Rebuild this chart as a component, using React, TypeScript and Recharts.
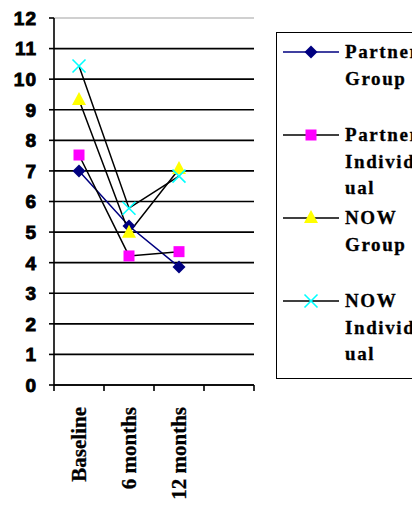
import React from "react";
import { CartesianGrid, Line, LineChart, ReferenceLine, XAxis, YAxis } from "recharts";

const categories = ["Baseline", "6 months", "12 months"];
const partnerGroup = [7.0, 5.2, 3.86];
const partnerIndividual = [7.52, 4.22, 4.36];
const nowGroup = [9.32, 4.98, 7.06];
const nowIndividual = [10.43, 5.78, 6.83];
const yTicks = [0, 1, 2, 3, 4, 5, 6, 7, 8, 9, 10, 11, 12];
const xSlots = [0, 1, 2, 3, 4];

const legendLines = [
  ["Partner", "Group"],
  ["Partner", "Individ", "ual"],
  ["NOW", "Group"],
  ["NOW", "Individ", "ual"],
];

const W = 412;
const H = 500;
const M = { top: 10, right: 166, left: 0, bottom: 0 };
const Y_W = 46;
const PLOT_W = W - M.left - M.right - Y_W;

const rows = categories.map((name, i) => ({
  x: i + 0.5,
  name,
  pg: partnerGroup[i],
  pi: partnerIndividual[i],
  ng: nowGroup[i],
  ni: nowIndividual[i],
}));

const serif = "'Liberation Serif', 'Times New Roman', serif";
const sans = "Arial, 'Liberation Sans', sans-serif";

function Diamond({ cx, cy }: any) {
  const r = 6.5;
  return <polygon points={`${cx},${cy - r} ${cx + r},${cy} ${cx},${cy + r} ${cx - r},${cy}`} fill="#000080" />;
}
function Square({ cx, cy }: any) {
  const s = 11;
  return <rect x={cx - s / 2} y={cy - s / 2} width={s} height={s} fill="#FF00FF" />;
}
function Triangle({ cx, cy }: any) {
  return <polygon points={`${cx},${cy - 8} ${cx + 7},${cy + 5} ${cx - 7},${cy + 5}`} fill="#FFFF00" />;
}
function Cross({ cx, cy }: any) {
  const r = 6.5;
  return (
    <g stroke="#00FFFF" strokeWidth={1.6}>
      <line x1={cx - r} y1={cy - r} x2={cx + r} y2={cy + r} />
      <line x1={cx - r} y1={cy + r} x2={cx + r} y2={cy - r} />
    </g>
  );
}

const series = [
  { key: "pg", line: "#000080", Mark: Diamond },
  { key: "pi", line: "#000000", Mark: Square },
  { key: "ng", line: "#000000", Mark: Triangle },
  { key: "ni", line: "#000000", Mark: Cross },
];

// category labels sit in the middle of each slot, tick marks on the slot edges
function XTick({ x, y, payload }: any) {
  const label = categories[payload.value];
  if (!label) return null;
  return (
    <text
      transform={`translate(${x + PLOT_W / 8},${y + 14}) rotate(-90)`}
      textAnchor="end"
      dy="0.35em"
      fontFamily={serif}
      fontWeight="bold"
      fontSize={21}
      fill="#000"
      stroke="#000"
      strokeWidth={0.3}
    >
      {label}
    </text>
  );
}

function YTick({ x, y, payload }: any) {
  return (
    <text
      x={x - 2}
      y={y}
      dy="0.36em"
      textAnchor="end"
      fontFamily={sans}
      fontWeight={700}
      fontSize={19}
      letterSpacing={1}
      fill="#000"
      stroke="#000"
      strokeWidth={0.9}
    >
      {payload.value}
    </text>
  );
}

function LegendBox() {
  return (
    <div
      style={{
        position: "absolute",
        left: 268,
        top: 24,
        width: 200,
        height: 347,
        border: "1.5px solid #000",
        background: "#fff",
        paddingTop: 6,
        boxSizing: "border-box",
      }}
    >
      {series.map((s, i) => (
        <div key={s.key} style={{ position: "relative", height: 83 }}>
          <svg width={58} height={26} style={{ position: "absolute", left: 6, top: 0 }}>
            <line x1={0} y1={13} x2={56} y2={13} stroke={s.line} strokeWidth={1.5} />
            <s.Mark cx={28} cy={13} />
          </svg>
          <div
            style={{
              position: "absolute",
              left: 68,
              top: 0,
              fontFamily: serif,
              fontWeight: "bold",
              fontSize: 19,
              letterSpacing: 1.6,
              lineHeight: "26.5px",
              whiteSpace: "nowrap",
              WebkitTextStroke: "0.3px #000",
            }}
          >
            {legendLines[i].map((t) => (
              <div key={t}>{t}</div>
            ))}
          </div>
        </div>
      ))}
    </div>
  );
}

export default function App() {
  return (
    <div style={{ position: "relative", width: W, height: H, overflow: "hidden", marginBottom: -8 }}>
      <LineChart width={W} height={H} data={rows} margin={M}>
        <CartesianGrid
          vertical={false}
          stroke="#000"
          strokeWidth={1.6}
          horizontalValues={yTicks.filter((v) => v < 12)}
        />
        <ReferenceLine y={12} stroke="#c0c0c0" strokeWidth={1.5} />
        <XAxis
          type="number"
          dataKey="x"
          domain={[0, 4]}
          ticks={xSlots}
          interval={0}
          tick={<XTick />}
          tickSize={6}
          height={123}
          axisLine={{ stroke: "#000", strokeWidth: 1.6 }}
          tickLine={{ stroke: "#000", strokeWidth: 1.6 }}
        />
        <YAxis
          domain={[0, 12]}
          ticks={yTicks}
          interval={0}
          width={Y_W}
          tickSize={5}
          tickMargin={10}
          tick={<YTick />}
          axisLine={{ stroke: "#000", strokeWidth: 1.6 }}
          tickLine={{ stroke: "#000", strokeWidth: 1.6 }}
        />
        {series.map((s) => (
          <Line
            key={s.key}
            dataKey={s.key}
            type="linear"
            stroke={s.line}
            strokeWidth={1.5}
            isAnimationActive={false}
            dot={(p: any) => <s.Mark key={`${s.key}-${p.index}`} cx={p.cx} cy={p.cy} />}
            activeDot={false}
          />
        ))}
      </LineChart>
      <LegendBox />
    </div>
  );
}
